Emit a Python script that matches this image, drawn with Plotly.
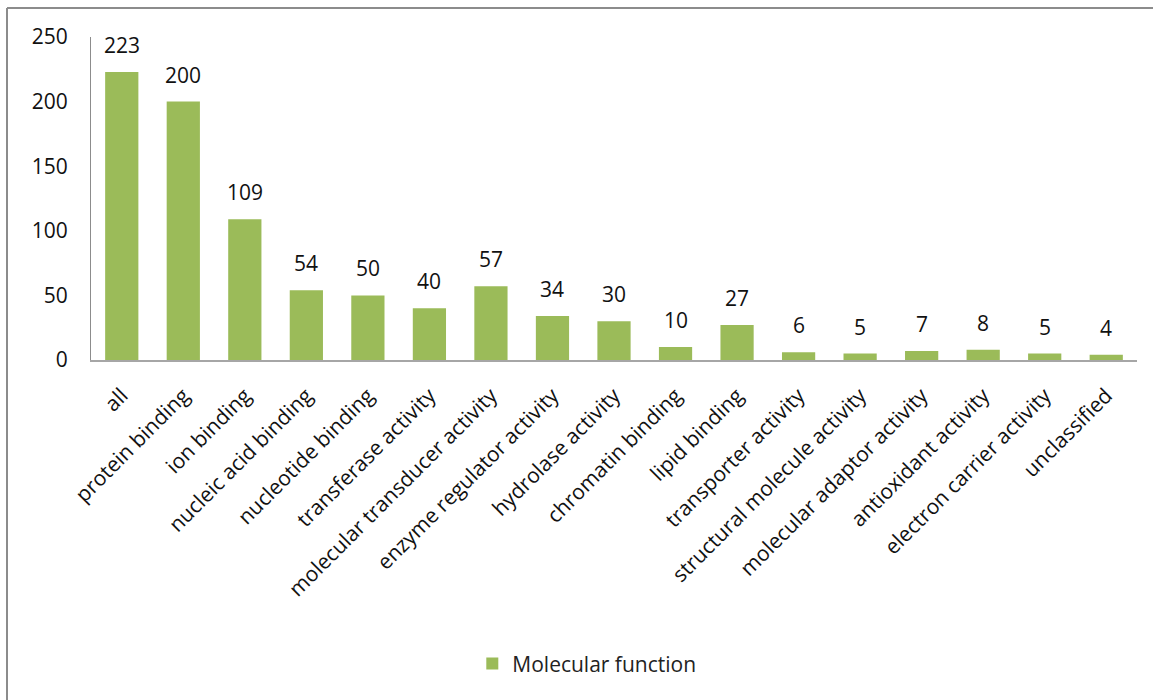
import plotly.graph_objects as go

categories = [
    "all", "protein binding", "ion binding", "nucleic acid binding",
    "nucleotide binding", "transferase activity", "molecular transducer activity",
    "enzyme regulator activity", "hydrolase activity", "chromatin binding",
    "lipid binding", "transporter activity", "structural molecule activity",
    "molecular adaptor activity", "antioxidant activity", "electron carrier activity",
    "unclassified",
]
counts = [223, 200, 109, 54, 50, 40, 57, 34, 30, 10, 27, 6, 5, 7, 8, 5, 4]
y_ticks = [0, 50, 100, 150, 200, 250]

FONT = "Open Sans"
FS = 21
GREEN = "#9BBB59"

fig = go.Figure(
    go.Bar(
        x=categories,
        y=counts,
        name="Molecular function",
        marker=dict(color=GREEN, line=dict(width=0)),
        showlegend=True,
    )
)

# Value labels floating above each bar
for cat, val in zip(categories, counts):
    fig.add_annotation(
        x=cat, y=val, text=str(val), showarrow=False,
        yanchor="bottom", yshift=11,
        font=dict(family=FONT, size=FS, color="#111111"),
    )

fig.update_layout(
    width=1153,
    height=700,
    margin=dict(l=91, r=16, t=37, b=340),
    paper_bgcolor="white",
    plot_bgcolor="white",
    bargap=0.46,
    font=dict(family=FONT, size=FS, color="#111111"),
    legend=dict(
        orientation="h",
        x=0.474,
        xanchor="center",
        y=-0.941,
        yanchor="middle",
        font=dict(family=FONT, size=FS, color="#222222"),
        itemsizing="constant",
    ),
    xaxis=dict(
        tickangle=-45,
        showline=True,
        linecolor="#A6A6A6",
        linewidth=2,
        ticks="",
        showgrid=False,
        ticklabelstandoff=13,
        tickfont=dict(family=FONT, size=FS, color="#111111"),
    ),
    yaxis=dict(
        range=[0, 250],
        tickvals=y_ticks,
        showline=True,
        linecolor="#8C8C8C",
        linewidth=1,
        ticks="",
        showgrid=False,
        zeroline=False,
        ticklabelstandoff=18,
        tickfont=dict(family=FONT, size=FS, color="#111111"),
    ),
)

# Outer chart frame (left and top edges)
fig.add_shape(type="line", xref="paper", yref="paper",
              x0=-0.0803, x1=-0.0803, y0=1.0898, y1=-1.06,
              line=dict(color="#8C8C8C", width=2))
fig.add_shape(type="line", xref="paper", yref="paper",
              x0=-0.0803, x1=1.02, y0=1.0898, y1=1.0898,
              line=dict(color="#8C8C8C", width=2))

fig.write_html("out.html")
